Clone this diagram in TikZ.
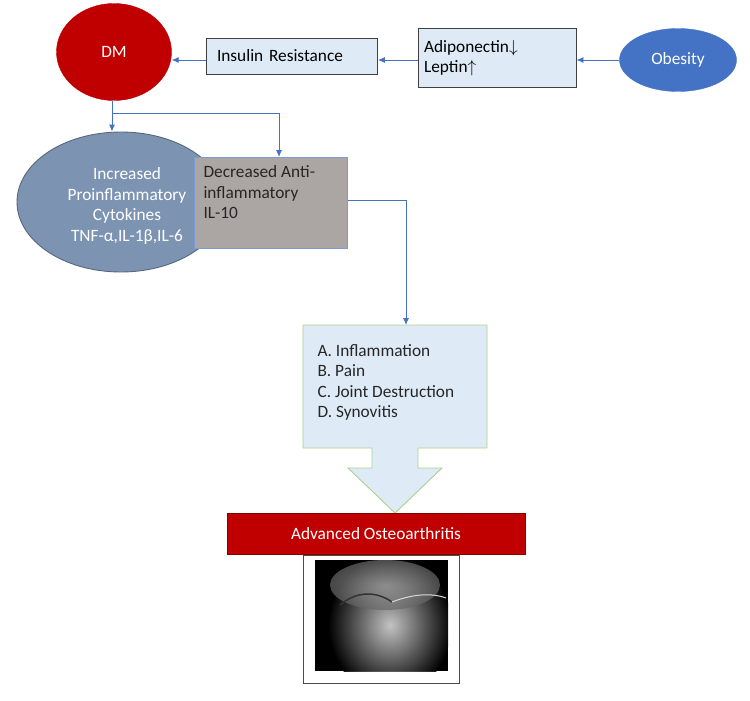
\documentclass[tikz,border=0pt]{standalone}
\usepackage{fontspec}
\setmainfont{Carlito}
\usetikzlibrary{arrows.meta,positioning,shapes.geometric}
\definecolor{dmred}{HTML}{C00000}
\definecolor{lightbox}{HTML}{DEEBF7}
\definecolor{obeblue}{HTML}{4472C4}
\definecolor{cytoblue}{HTML}{7C93B2}
\definecolor{grayfill}{HTML}{ABA6A3}
\definecolor{arrowgreen}{HTML}{A9D18E}
\begin{document}
\begin{tikzpicture}[x=1pt,y=-1pt,font=\fontsize{17.3}{20.5}\selectfont]
	    \tikzset{>={Latex[length=7pt,width=6pt]}}
	    \tikzset{flow/.style={->,draw=obeblue,line width=0.9pt}}
	    \tikzset{lbox/.style={draw=black!75,fill=lightbox,line width=0.9pt,inner sep=0pt}}
	    \useasboundingbox (0,0) rectangle (750,701);
	    % top row
	    \node (DM) [ellipse,fill=dmred,draw=dmred,minimum width=115pt,minimum height=97pt,inner sep=0pt,text=white] at (114,52) {DM};
	    \node (IR) [lbox,minimum width=171pt,minimum height=36pt,align=left,text width=150pt] at (292,56) {Insulin Resistance};
	    \node (AL) [lbox,minimum width=158pt,minimum height=59pt,align=left,text width=146pt] at (497,58) {Adiponectin$\downarrow$\\Leptin$\uparrow$};
	    \node (OB) [ellipse,fill=obeblue,draw=obeblue,minimum width=117pt,minimum height=63pt,inner sep=0pt,text=white] at (678,60) {Obesity};
	    \draw[flow] (OB.west) -- (AL.east |- OB.west);
	    \draw[flow] (AL.west |- 0,60) -- (IR.east |- 0,60);
	    \draw[flow] (IR.west |- 0,60) -- (DM.east |- 0,60);
	    % middle
	    \node (CY) [ellipse,fill=cytoblue,draw=cytoblue!70!black,line width=0.9pt,minimum width=208pt,minimum height=140pt,inner sep=0pt] at (121,202) {};
	    \node [text=white,align=center] at (127,206) {Increased\\Proinflammatory\\Cytokines\\TNF-α,IL-1β,IL-6};
	    \node (AI) [draw=obeblue!70,fill=grayfill,line width=0.9pt,minimum width=153pt,minimum height=91pt,inner sep=0pt] at (271,203) {};
	    \node [align=left,anchor=north west,text=black!85] at (200,162) {Decreased Anti-\\inflammatory\\IL-10};
	    \coordinate (split) at (112,113);
	    \draw[flow] (DM.south -| split) -- (CY.north -| split);
	    \draw[flow] (split) -- (279,113) -- (AI.north -| 279,0);
	    \draw[flow] (AI.east |- 0,200) -- (406,200) -- (406,325);
	    % block arrow
	    \draw[draw=arrowgreen,fill=lightbox,line width=0.9pt] (303,325) -- (487,325) -- (487,448) -- (418,448) -- (418,468) -- (442,468) -- (395,513) -- (348,468) -- (372,468) -- (372,448) -- (303,448) -- cycle;
	    \node (LI) [align=left,anchor=north west,text=black!85] at (314,341) {A. Inflammation\\B. Pain\\C. Joint Destruction\\D. Synovitis};
	    % result
	    \node (OA) [fill=dmred,draw=dmred!70!black,minimum width=298pt,minimum height=41pt,text=white] at (376,534) {Advanced Osteoarthritis};
	    \draw[black!70,line width=0.9pt] (303,555) rectangle (459,683);
	    \fill[black] (315,560) rectangle (448,671);
	    \begin{scope}
	      \clip (315,560) rectangle (448,671);
	      \shade[inner color=white!85!black,outer color=black,opacity=0.9] (390,625) ellipse (62pt and 70pt);
	      \shade[inner color=white!65!black,outer color=black!60,opacity=0.7] (385,585) ellipse (55pt and 25pt);
	      \draw[black!80,line width=1.5pt] (340,605) .. controls (355,592) and (375,590) .. (392,602);
	      \draw[white!85!black,line width=1pt] (392,602) .. controls (410,595) and (430,592) .. (446,598);
	    \end{scope}
\end{tikzpicture}
\end{document}
